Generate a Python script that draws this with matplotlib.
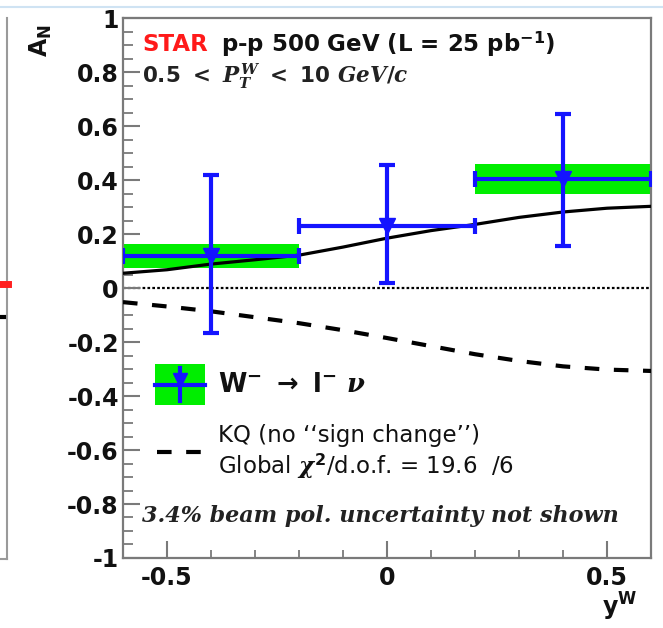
import matplotlib
matplotlib.use("Agg")
import matplotlib.pyplot as plt
from matplotlib.patches import Rectangle
from matplotlib.lines import Line2D
from matplotlib.ticker import MultipleLocator, FuncFormatter

plt.rcParams['font.family'] = ['DejaVu Sans']
plt.rcParams['mathtext.fontset'] = 'custom'
plt.rcParams['mathtext.rm'] = 'DejaVu Sans:bold'
plt.rcParams['mathtext.bf'] = 'DejaVu Sans:bold'
plt.rcParams['mathtext.it'] = 'DejaVu Serif:italic:bold'
plt.rcParams['mathtext.sf'] = 'DejaVu Sans'

# ---------------- data ----------------
yw_center = [-0.4, 0.0, 0.4]
yw_halfwidth = [0.2, 0.2, 0.2]
an_value = [0.12, 0.23, 0.404]
an_err_low = [0.287, 0.21, 0.248]
an_err_high = [0.30, 0.226, 0.24]
an_sys_half = [0.045, 0.0, 0.057]

theory_y = [-0.6, -0.5, -0.4, -0.3, -0.2, -0.1, 0.0, 0.1, 0.2, 0.3, 0.4, 0.5, 0.6]
theory_sign_change = [0.055, 0.068, 0.089, 0.105, 0.122, 0.152, 0.185, 0.213, 0.236, 0.262, 0.282, 0.296, 0.303]
theory_kq = [-0.052, -0.068, -0.086, -0.108, -0.130, -0.156, -0.185, -0.215, -0.245, -0.270, -0.290, -0.302, -0.307]

y_ticks = [-1, -0.8, -0.6, -0.4, -0.2, 0, 0.2, 0.4, 0.6, 0.8, 1]
x_ticks = [-0.5, 0, 0.5]

BLUE = '#1414ff'
GREEN = '#00ee00'
FRAME = '#7a7a7a'
TXT = '#111111'

fig = plt.figure(figsize=(6.63, 6.28), dpi=100)
ax = fig.add_axes([0.1855, 0.1115, 0.7965, 0.8595])
ax.set_xlim(-0.6, 0.6)
ax.set_ylim(-1, 1)

# systematic boxes
for xc, hw, v, s in zip(yw_center, yw_halfwidth, an_value, an_sys_half):
    if s > 0:
        ax.add_patch(Rectangle((xc - hw, v - s), 2 * hw, 2 * s,
                               facecolor=GREEN, edgecolor='none', zorder=2))

# zero line
ax.axhline(0, color='black', lw=1.6, ls=(0, (1.2, 1.0)), zorder=1)

# theory curves
ax.plot(theory_y, theory_sign_change, color='black', lw=2.3, zorder=3)
ax.plot(theory_y, theory_kq, color='black', lw=3.0, ls=(0, (3.5, 3.5)), zorder=3)

# data points
ax.errorbar(yw_center, an_value, xerr=yw_halfwidth,
            yerr=[an_err_low, an_err_high], fmt='v', color=BLUE,
            ms=11, elinewidth=3, capsize=6, capthick=3, zorder=4)

# ticks
ax.yaxis.set_minor_locator(MultipleLocator(0.05))
ax.xaxis.set_minor_locator(MultipleLocator(0.1))
ax.set_yticks(y_ticks)
ax.set_xticks(x_ticks)

def fmt(v, pos):
    s = ('%g' % v)
    if s == '-0':
        s = '0'
    return s

ax.yaxis.set_major_formatter(FuncFormatter(fmt))
ax.xaxis.set_major_formatter(FuncFormatter(fmt))
ax.tick_params(axis='both', which='both', direction='in', color=FRAME,
               top=False, right=False)
ax.tick_params(axis='y', which='major', length=12, width=1.5, pad=3)
ax.tick_params(axis='y', which='minor', length=7, width=1.3)
ax.tick_params(axis='x', which='major', length=12, width=1.5, pad=6)
ax.tick_params(axis='x', which='minor', length=6, width=1.3)
for lab in ax.get_yticklabels() + ax.get_xticklabels():
    lab.set_fontweight('bold')
    lab.set_fontsize(17)
    lab.set_color(TXT)

for sp in ax.spines.values():
    sp.set_color(FRAME)
    sp.set_linewidth(1.6)

# header texts
ax.text(0.036, 0.952, 'STAR', color='#ff1a1a', fontsize=16.5, fontweight='bold',
        transform=ax.transAxes, va='center', ha='left')
ax.text(0.186, 0.952, r'p-p 500 GeV (L = 25 pb$^{\mathbf{-1}}$)', color=TXT,
        fontsize=16.5, fontweight='bold', transform=ax.transAxes, va='center', ha='left')
ax.text(0.036, 0.893, r'$\mathit{0.5\ <\ P_T^W\ <\ 10\ GeV/c}$', color='#222222',
        fontsize=15.5, transform=ax.transAxes, va='center', ha='left')

# legend
ax.add_patch(Rectangle((0.06, 0.283), 0.095, 0.076, transform=ax.transAxes,
                       facecolor=GREEN, edgecolor='none', zorder=5))
ax.add_line(Line2D([0.06, 0.155], [0.321, 0.321], transform=ax.transAxes,
                   color=BLUE, lw=3, zorder=6))
ax.add_line(Line2D([0.1075, 0.1075], [0.29, 0.352], transform=ax.transAxes,
                   color=BLUE, lw=3, zorder=6))
ax.plot([0.1075], [0.33], marker='v', ms=10, color=BLUE, transform=ax.transAxes, zorder=7)
ax.text(0.18, 0.321, r'W$^{-}$ $\rightarrow$ l$^{-}$ $\nu$', fontsize=18.5,
        fontweight='bold', color=TXT, transform=ax.transAxes, va='center', ha='left')

ax.add_line(Line2D([0.064, 0.155], [0.196, 0.196], transform=ax.transAxes,
                   color='black', lw=3.0, ls=(0, (3.5, 3.5)), zorder=6))
ax.text(0.18, 0.226, 'KQ (no ‘‘sign change’’)', fontsize=16.5, color=TXT,
        transform=ax.transAxes, va='center', ha='left')
ax.text(0.18, 0.170, r'Global $\chi^{2}$/d.o.f. = 19.6  /6', fontsize=16.5, color=TXT,
        transform=ax.transAxes, va='center', ha='left')

ax.text(0.036, 0.078, '3.4% beam pol. uncertainty not shown', fontsize=16,
        fontfamily='DejaVu Serif', fontweight='bold', fontstyle='italic',
        color='#222222', transform=ax.transAxes, va='center', ha='left')

# axis titles
fig.text(0.062, 0.935, r'$\mathbf{A_N}$', rotation=90, fontsize=17,
         color=TXT, ha='center', va='center')
fig.text(0.935, 0.033, r'$\mathbf{y^W}$', fontsize=17, color=TXT,
         ha='center', va='center')

# neighbouring panel fragments / slide decoration
fig.add_artist(Line2D([0.011, 0.011], [0.11, 0.971], transform=fig.transFigure,
                      color='#9a9a9a', lw=1.5))
fig.add_artist(Line2D([0.0, 0.011], [0.11, 0.11], transform=fig.transFigure,
                      color='#9a9a9a', lw=1.5))
fig.add_artist(Line2D([0.0, 0.012], [0.548, 0.548], transform=fig.transFigure,
                      color='#ff2020', lw=5))
fig.add_artist(Line2D([0.0, 0.006], [0.496, 0.496], transform=fig.transFigure,
                      color='black', lw=3))
fig.add_artist(Line2D([0.0, 1.0], [0.989, 0.989], transform=fig.transFigure,
                      color='#cfe3f3', lw=1.5))

fig.savefig('out.png', dpi=100)
